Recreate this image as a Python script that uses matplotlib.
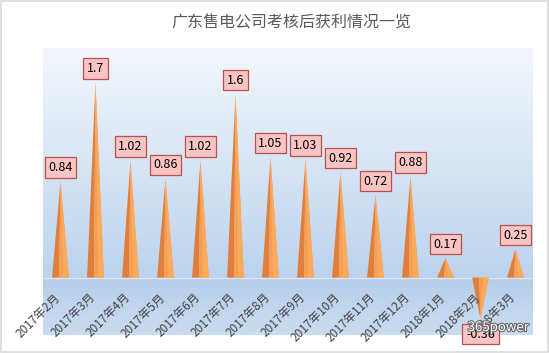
import numpy as np
import matplotlib
matplotlib.use("Agg")
import matplotlib.pyplot as plt
import matplotlib.patheffects as pe
from matplotlib.colors import to_rgb
from matplotlib.patches import Rectangle

plt.rcParams['font.family'] = ['Noto Sans CJK SC', 'DejaVu Sans']

title = "广东售电公司考核后获利情况一览"
categories = ["2017年2月", "2017年3月", "2017年4月", "2017年5月", "2017年6月",
              "2017年7月", "2017年8月", "2017年9月", "2017年10月", "2017年11月",
              "2017年12月", "2018年1月", "2018年2月", "2018年3月"]
values = [0.84, 1.7, 1.02, 0.86, 1.02, 1.6, 1.05, 1.03, 0.92, 0.72, 0.88, 0.17, -0.36, 0.25]
value_labels = ["0.84", "1.7", "1.02", "0.86", "1.02", "1.6", "1.05", "1.03", "0.92",
                "0.72", "0.88", "0.17", "-0.36", "0.25"]

fig = plt.figure(figsize=(5.49, 3.53), dpi=100)
fig.patch.set_facecolor("white")
ax = fig.add_axes([0.0783, 0.051, 0.8925, 0.813])

ymin, ymax = -0.5, 2.0
zero_frac = (0 - ymin) / (ymax - ymin)

# wall gradient (top white -> light blue)
def grad(c_top, c_bot, n=256):
    t = np.linspace(0, 1, n)[:, None]
    a = np.array(to_rgb(c_top)); b = np.array(to_rgb(c_bot))
    return (a * (1 - t) + b * t)[:, None, :]

ax.imshow(grad("#F3F7FC", "#BCD3EE"), extent=[0, 1, zero_frac, 1], transform=ax.transAxes,
          aspect="auto", zorder=0, interpolation="bilinear")
ax.imshow(grad("#B6CEEA", "#CBDCF1"), extent=[0, 1, 0, zero_frac], transform=ax.transAxes,
          aspect="auto", zorder=0, interpolation="bilinear")
ax.axhline(0, color="#DCE8F6", lw=1.0, zorder=1)

x = np.arange(len(values))
w = 0.48
for xi, v in zip(x, values):
    ax.fill([xi - w / 2, xi, xi - 0.08 * w], [0, v, 0], color="#E07E3C", lw=0, zorder=3)
    ax.fill([xi - 0.08 * w, xi, xi + w / 2], [0, v, 0], color="#F99E4E", lw=0, zorder=3)
    ax.fill([xi + 0.15 * w, xi, xi + w / 2], [0, v, 0], color="#FBAA5E", lw=0, zorder=3)

for xi, v, lab in zip(x, values, value_labels):
    off = 10 if v >= 0 else -11
    ax.annotate(lab, (xi, v), xytext=(0, off), textcoords="offset points",
                ha="center", va="center", fontsize=9, color="black", zorder=6,
                annotation_clip=False,
                bbox=dict(boxstyle="square,pad=0.3", fc="#F9C4C4", ec="#B8504C", lw=0.9))

for xi, c in zip(x, categories):
    ax.text(xi + 0.06, -0.115, c, rotation=45, ha="right", va="top", fontsize=8.5,
            color="#404040", zorder=5)

ax.set_xlim(-0.5, len(values) - 0.5)
ax.set_ylim(ymin, ymax)
ax.set_xticks([]); ax.set_yticks([])
for s in ax.spines.values():
    s.set_visible(False)

fig.text(0.53, 0.935, title, ha="center", va="center", fontsize=11.5, color="#595959")

fig.text(0.963, 0.072, "365power", ha="right", va="center", fontsize=9.5, color="white",
         path_effects=[pe.withStroke(linewidth=1.5, foreground="#666666")], zorder=10)

fig.patches.append(Rectangle((0.001, 0.002), 0.997, 0.995, transform=fig.transFigure,
                             fill=False, ec="#D9D9D9", lw=1.2))

fig.savefig("out.png", dpi=100)
